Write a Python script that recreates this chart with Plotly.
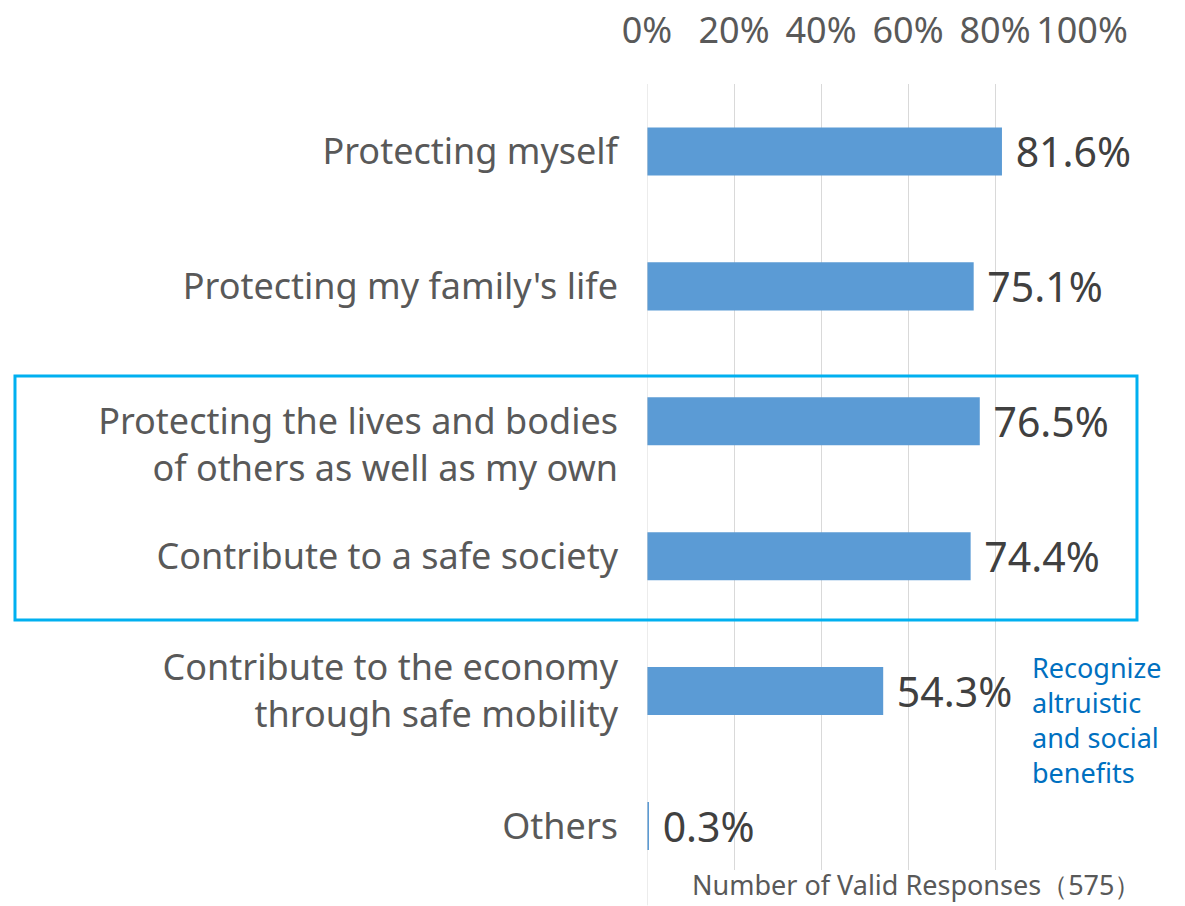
import plotly.graph_objects as go

categories = [
    "Protecting myself",
    "Protecting my family's life",
    "Protecting the lives and bodies of others as well as my own",
    "Contribute to a safe society",
    "Contribute to the economy through safe mobility",
    "Others",
]
category_labels = [
    "Protecting myself",
    "Protecting my family's life",
    "<br>Protecting the lives and bodies<br>of others as well as my own",
    "Contribute to a safe society",
    "Contribute to the economy<br>through safe mobility",
    "Others",
]
values = [81.6, 75.1, 76.5, 74.4, 54.3, 0.3]
x_ticks = [0, 20, 40, 60, 80, 100]
x_tick_labels = ["0%", "20%", "40%", "60%", "80%", "100%"]
note_text = "Recognize<br>altruistic<br>and social<br>benefits"
footer_text = "Number of Valid Responses（575）"

FONT = "Noto Sans"
fig = go.Figure()
fig.add_trace(go.Bar(
    x=values, y=categories, orientation="h",
    marker=dict(color="#5B9BD5", line=dict(width=0)),
    width=0.356,
    texttemplate=" %{x:.1f}%", textposition="outside",
    textfont=dict(family=FONT, size=41, color="#404040"),
    constraintext="none", cliponaxis=False,
    hoverinfo="skip",
))

# axis line for 0% extended downward
fig.add_shape(type="line", xref="x", yref="paper", x0=0, x1=0, y0=1, y1=-0.045,
              line=dict(color="#D9D9D9", width=1))
# highlight box around the altruistic items
fig.add_shape(type="rect", xref="paper", yref="paper", x0=-1.4529, x1=1.1264,
              y0=0.3181, y1=0.6285,
              line=dict(color="#00B0F0", width=3), fillcolor="rgba(0,0,0,0)")

fig.add_annotation(text=note_text, xref="paper", yref="y", x=0.880, y=4.215,
                   xanchor="left", yanchor="middle", align="left", showarrow=False,
                   font=dict(family=FONT, size=27, color="#0070C0"))
fig.add_annotation(text=footer_text, xref="paper", yref="paper", x=1.14, y=-0.018,
                   xanchor="right", yanchor="middle", showarrow=False,
                   font=dict(family=FONT, size=27, color="#595959"))

fig.update_layout(
    width=1185, height=906,
    margin=dict(l=647, r=103, t=84, b=36),
    paper_bgcolor="white", plot_bgcolor="white",
    showlegend=False,
    font=dict(family=FONT, color="#595959"),
    xaxis=dict(side="top", range=[0, 100], tickvals=x_ticks, ticktext=x_tick_labels,
               showgrid=True, gridcolor="#D9D9D9", gridwidth=1, zeroline=False,
               showline=False, ticks="", ticklabelstandoff=33, tickangle=0,
               automargin=False,
               tickfont=dict(family=FONT, size=36, color="#595959")),
    yaxis=dict(type="category", range=[5.326, -0.5], showgrid=False, zeroline=False,
               showline=False, ticks="", ticklabelstandoff=28, automargin=False,
               tickvals=categories, ticktext=category_labels,
               tickfont=dict(family=FONT, size=36, color="#595959")),
)
fig.write_html("out.html")
